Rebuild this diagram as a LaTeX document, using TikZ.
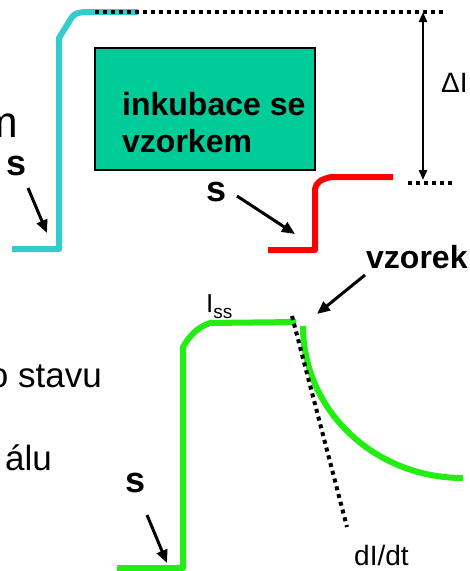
\documentclass[tikz,border=0pt]{standalone}
\usepackage{fontspec}
\setmainfont{Liberation Sans}
\usetikzlibrary{arrows.meta}

\definecolor{traceCyan}{RGB}{51,204,204}
\definecolor{traceRed}{RGB}{255,0,0}
\definecolor{traceGreen}{RGB}{34,238,17}
\definecolor{boxGreen}{RGB}{0,204,153}

\begin{document}
\begin{tikzpicture}[x=1pt,y=-1pt,
  trace/.style={line width=6pt, line join=round},
  dotline/.style={line width=4pt, dash pattern=on 4pt off 4pt},
  pointer/.style={line width=3pt, -{Triangle[length=13pt,width=11pt]}},
  gap/.style={line width=2.5pt, {Triangle[length=10pt,width=8pt]}-{Triangle[length=10pt,width=8pt]}},
  sig/.style={inner sep=0pt, font=\fontsize{36}{40}\selectfont\bfseries},
  boldtext/.style={inner sep=0pt, font=\fontsize{32}{36}\selectfont\bfseries},
  plaintext/.style={inner sep=0pt, font=\fontsize{35}{40}\selectfont},
  smalltext/.style={inner sep=0pt, font=\fontsize{28}{32}\selectfont}
]
\useasboundingbox (0,0) rectangle (470,571);

% baseline trace before incubation
\draw[trace,traceCyan] (12,249) -- (59,249) -- (59,38) -- (72,17)
  .. controls (75,13) and (80,12) .. (88,12) -- (138,12);
\coordinate (topL) at (95,12);
\coordinate (topR) at (443,12);
\draw[dotline] (topL) -- (topR);

% incubation box
\node[draw, line width=2pt, fill=boxGreen, minimum width=220pt, minimum height=122pt,
  inner sep=0pt] (incub) at (205,109) {};
\node[boldtext, anchor=base west] (incubA) at (122,115) {inkubace se};
\node[boldtext, anchor=base west] (incubB) at (122,152) {vzorkem};

% trace after incubation
\draw[trace,traceRed] (268,250) -- (315,250) -- (315,189)
  .. controls (316,182) and (322,179) .. (331,177) -- (393,177);
\coordinate (lowL) at (408,183);
\coordinate (lowR) at (452,183);
\draw[dotline] (lowL) -- (lowR);

% signal difference
\coordinate (gapTop) at (423,12);
\coordinate (gapBot) at (423,180);
\draw[gap] (gapTop) -- (gapBot);
\node[smalltext, anchor=base west] (dI) at (441,92) {ΔI};

% labels and pointers, upper part
\node[plaintext, font=\fontsize{44}{48}\selectfont, anchor=base east] (mtext) at (18,137) {m};
\node[sig] (s1) at (17,166) {s};
\coordinate (s1from) at (28,188);
\coordinate (s1to) at (47,233);
\draw[pointer] (s1from) -- (s1to);

\node[sig] (s2) at (217,192) {s};
\coordinate (s2from) at (237,196);
\coordinate (s2to) at (295,234);
\draw[pointer] (s2from) -- (s2to);

% steady state and decay with the sample
\draw[trace,traceGreen] (117,568) -- (183,568) -- (183,347)
  .. controls (188,338) and (197,327) .. (210,323) -- (296,322);
\draw[trace,traceGreen] (303,326) .. controls (303,410) and (374,478) .. (463,478);
\coordinate (tanA) at (292,316);
\coordinate (tanB) at (347,527);
\draw[dotline] (tanA) -- (tanB);

\node[inner sep=0pt, anchor=base west, font=\fontsize{26}{30}\selectfont] (iss) at (206,312)
  {I\raisebox{-6pt}{\fontsize{19}{20}\selectfont ss}};
\node[smalltext, anchor=base west] (dIdt) at (354,565) {dI/dt};

\node[boldtext, anchor=base west] (vzorek) at (366,268) {vzorek};
\coordinate (vzfrom) at (365,275);
\coordinate (vzto) at (317,314);
\draw[pointer] (vzfrom) -- (vzto);

\node[plaintext, anchor=base east] (stavu) at (102,387) {o stavu};
\node[plaintext, anchor=base east] (alu) at (52,470) {álu};

\node[sig] (s3) at (136,483) {s};
\coordinate (s3from) at (147,515);
\coordinate (s3to) at (167,563);
\draw[pointer] (s3from) -- (s3to);
\end{tikzpicture}
\end{document}
